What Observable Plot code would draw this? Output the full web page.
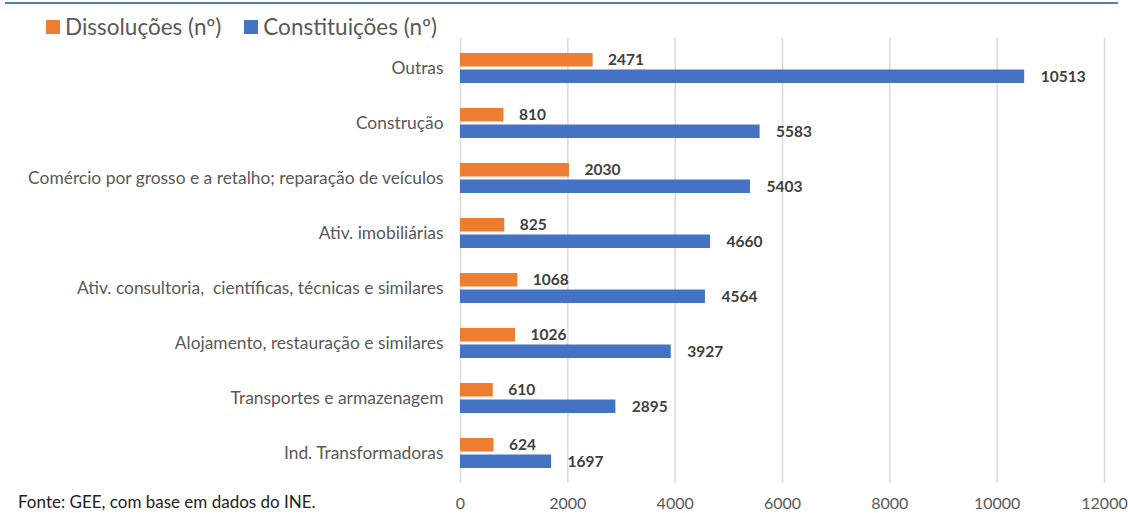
<!DOCTYPE html>
<html>
<head>
<meta charset="utf-8">
<script src="https://cdn.jsdelivr.net/npm/d3@7"></script>
<script src="https://cdn.jsdelivr.net/npm/@observablehq/plot@0.6"></script>
<style>
  html, body { margin: 0; padding: 0; background: #fff; }
  #wrap { position: relative; width: 1128px; height: 513px; overflow: hidden; font-family: Lato, "Open Sans", sans-serif; }
  #topline { position: absolute; left: 5px; top: 2px; width: 1113px; height: 2px; background: #4f81bd; }
  #legend { position: absolute; left: 46px; top: 14px; font-size: 22.5px; line-height: 26px; color: #595959; display: flex; align-items: center; white-space: nowrap; }
  .sw { display: inline-block; width: 14px; height: 14px; margin-right: 5px; }
  .item { display: flex; align-items: center; margin-right: 23px; }
  #caption { position: absolute; left: 18px; top: 492px; font-size: 17px; line-height: 20px; color: #222; white-space: nowrap; }
  #chart { position: absolute; left: 0; top: 0; }
  #chart svg text { white-space: pre; }
</style>
</head>
<body>
<div id="wrap">
  <div id="chart"></div>
  <div id="topline"></div>
  <div id="legend"></div>
  <div id="caption">Fonte: GEE, com base em dados do INE.</div>
</div>
<script>
const categories = [
  "Outras",
  "Construção",
  "Comércio por grosso e a retalho; reparação de veículos",
  "Ativ. imobiliárias",
  "Ativ. consultoria,  científicas, técnicas e similares",
  "Alojamento, restauração e similares",
  "Transportes e armazenagem",
  "Ind. Transformadoras"
];
const dissolucoes = [2471, 810, 2030, 825, 1068, 1026, 610, 624];
const constituicoes = [10513, 5583, 5403, 4660, 4564, 3927, 2895, 1697];
const xTicks = [0, 2000, 4000, 6000, 8000, 10000, 12000];
const seriesNames = ["Dissoluções (nº)", "Constituições (nº)"];
const seriesColors = ["#ED7D31", "#4472C4"];

const data = categories.map((c, i) => ({category: c, dis: dissolucoes[i], con: constituicoes[i]}));

const legend = document.getElementById("legend");
seriesNames.forEach((n, i) => {
  const it = document.createElement("span");
  it.className = "item";
  it.innerHTML = `<span class="sw" style="background:${seriesColors[i]}"></span>${n}`;
  legend.appendChild(it);
});

const chart = Plot.plot({
  width: 1128,
  height: 513,
  marginLeft: 460,
  marginRight: 24,
  marginTop: 38,
  marginBottom: 30,
  style: {fontFamily: "Lato, 'Open Sans', sans-serif", background: "transparent"},
  x: {domain: [0, 12000]},
  y: {domain: categories, paddingInner: 0.45, paddingOuter: 0.225},
  marks: [
    Plot.gridX(xTicks, {stroke: "#d9d9d9", strokeOpacity: 1, strokeWidth: 1.5}),
    Plot.axisX(xTicks, {tickSize: 0, tickPadding: 14, fontSize: 16, fill: "#595959", label: null, tickFormat: d => String(d)}),
    Plot.axisY({tickSize: 0, tickPadding: 17, fontSize: 17.4, fill: "#595959", label: null}),
    Plot.barX(data, {y: "category", x: "dis", fill: seriesColors[0], insetBottom: 16.5}),
    Plot.barX(data, {y: "category", x: "con", fill: seriesColors[1], insetTop: 16.5}),
    Plot.text(data, {y: "category", x: "dis", text: d => String(d.dis), dx: 15, dy: -8.5, textAnchor: "start", fontWeight: "bold", fontSize: 15.5, fill: "#404040"}),
    Plot.text(data, {y: "category", x: "con", text: d => String(d.con), dx: 16, dy: 9, textAnchor: "start", fontWeight: "bold", fontSize: 15.5, fill: "#404040"})
  ]
});
document.getElementById("chart").appendChild(chart);
</script>
</body>
</html>
